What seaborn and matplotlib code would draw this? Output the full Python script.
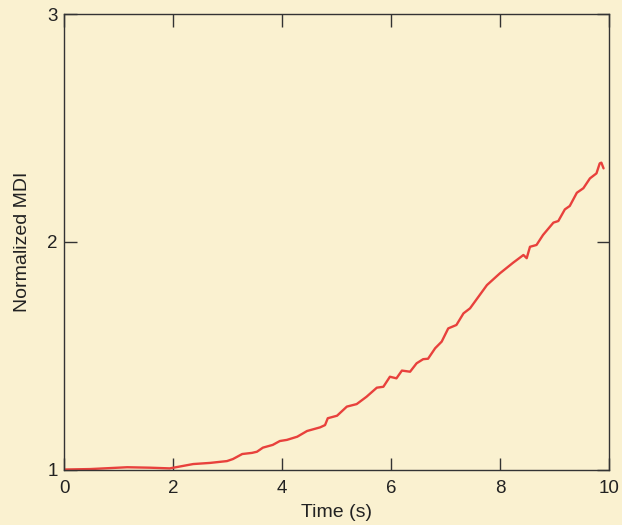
import numpy as np
import pandas as pd
import matplotlib
matplotlib.use("Agg")
import matplotlib.pyplot as plt
import seaborn as sns

# Données
temps = [0.00, 0.48, 1.16, 1.58, 1.94, 2.37, 2.68, 2.99, 3.10, 3.27, 3.45, 3.54,
         3.65, 3.83, 3.96, 4.09, 4.28, 4.46, 4.70, 4.79, 4.84, 5.01, 5.19, 5.37,
         5.55, 5.74, 5.86, 5.98, 6.10, 6.20, 6.35, 6.47, 6.59, 6.68, 6.81, 6.93,
         7.05, 7.20, 7.33, 7.45, 7.76, 8.00, 8.24, 8.43, 8.49, 8.55, 8.67, 8.79,
         8.98, 9.07, 9.19, 9.28, 9.41, 9.53, 9.65, 9.77, 9.83, 9.86, 9.90]
mdi = [1.002, 1.004, 1.012, 1.010, 1.007, 1.026, 1.031, 1.039, 1.048, 1.070, 1.075, 1.080,
       1.098, 1.110, 1.127, 1.132, 1.146, 1.171, 1.187, 1.197, 1.227, 1.238, 1.278, 1.289,
       1.321, 1.361, 1.365, 1.409, 1.402, 1.436, 1.431, 1.468, 1.486, 1.488, 1.534, 1.563,
       1.621, 1.636, 1.687, 1.709, 1.811, 1.863, 1.909, 1.943, 1.929, 1.979, 1.987, 2.031,
       2.085, 2.092, 2.143, 2.158, 2.216, 2.236, 2.279, 2.301, 2.345, 2.348, 2.323]

x_ticks = [0, 2, 4, 6, 8, 10]
y_ticks = [1, 2, 3]

df = pd.DataFrame({"temps": temps, "mdi": mdi})

sns.set_theme(style="ticks")
plt.rcParams['font.family'] = ['Liberation Sans', 'DejaVu Sans']

fond = "#faf1d0"
fig = plt.figure(figsize=(6.22, 5.25), dpi=100, facecolor=fond)
ax = fig.add_axes([0.1029, 0.1048, 0.8762, 0.8685])
ax.set_facecolor(fond)

sns.lineplot(data=df, x="temps", y="mdi", ax=ax, color="#e8413c", linewidth=1.7, sort=False)

ax.set_xlim(0, 10)
ax.set_ylim(1, 3)
ax.set_xticks(x_ticks)
ax.set_yticks(y_ticks)
ax.tick_params(direction="in", length=9, width=1, color="#333333",
               top=True, right=True, labelsize=13.5, labelcolor="#222222")
ax.tick_params(axis="x", pad=7)
ax.tick_params(axis="y", pad=4.5)
for s in ax.spines.values():
    s.set_color("#333333")
    s.set_linewidth(1.0)

ax.set_xlabel("Time (s)", fontsize=14, color="#222222", labelpad=5)
ax.set_ylabel("Normalized MDI", fontsize=14, color="#222222", labelpad=12)

plt.savefig("out.png", dpi=100, facecolor=fond)
